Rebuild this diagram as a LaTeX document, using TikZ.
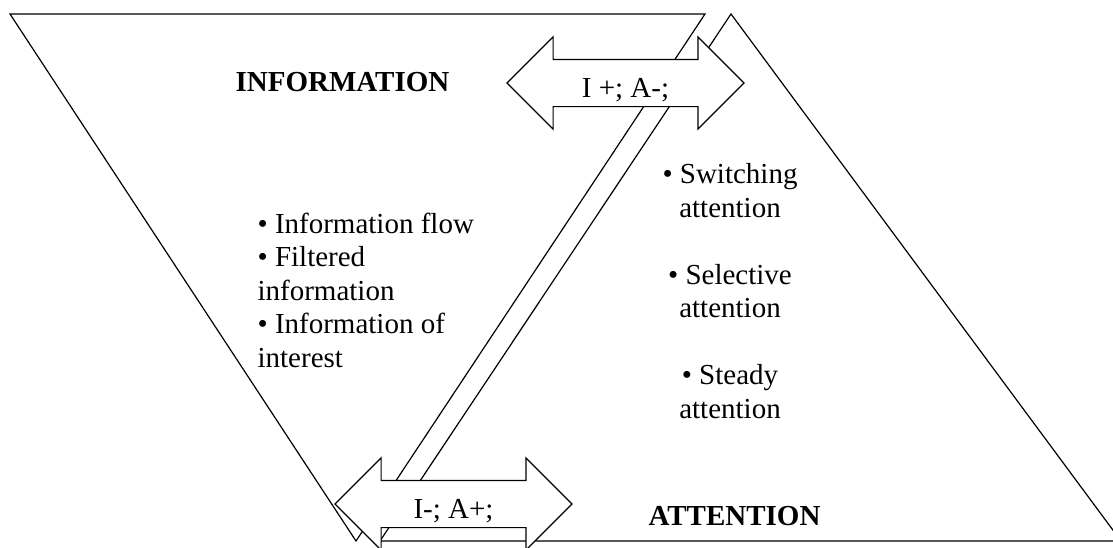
\documentclass[tikz,border=0pt]{standalone}
\usepackage{fontspec}
\setmainfont{Liberation Serif}
\usetikzlibrary{shapes.arrows}
\tikzset{tradearrow/.style={double arrow, draw, fill=white,
  minimum height=237pt, minimum width=91pt,
  double arrow head extend=22.5pt, double arrow tip angle=90,
  inner xsep=2pt, inner ysep=0pt, text height=37pt, text depth=9pt,
  font=\fontsize{29}{33}\selectfont}}
\tikzset{heading/.style={inner sep=0pt, font=\fontsize{29}{33}\selectfont\bfseries}}
\tikzset{itemlist/.style={inner sep=0pt, font=\fontsize{29}{33.5}\selectfont}}

\begin{document}
\begin{tikzpicture}[x=1pt, y=-1pt, line width=1.2pt]
      \useasboundingbox (0,0) rectangle (1113,547);
      \clip (0,0) rectangle (1113,547);
      % information and attention triangles
      \draw (10,14) -- (705,14) -- (356,541) -- cycle;
      \draw (731,14) -- (1121,541) -- (380,541) -- cycle;

      \node [tradearrow] (infoarrow) at (625.5,83) {I +; A-;};
      \node [tradearrow] (attnarrow) at (453.5,504) {I-; A+;};

      \node [heading, anchor=base west] (info) at (235,91) {INFORMATION};
      \node [heading, anchor=base west] (attn) at (648,525) {ATTENTION};
      \node [itemlist, align=left, anchor=north west] (infolist) at (257,212)
        {• Information flow\\• Filtered\\information\\• Information of\\interest};
      \node [itemlist, align=center, anchor=north] (attnlist) at (730,163)
        {• Switching\\attention\\[33.5pt]• Selective\\attention\\[33.5pt]• Steady\\attention};
    \end{tikzpicture}
\end{document}
